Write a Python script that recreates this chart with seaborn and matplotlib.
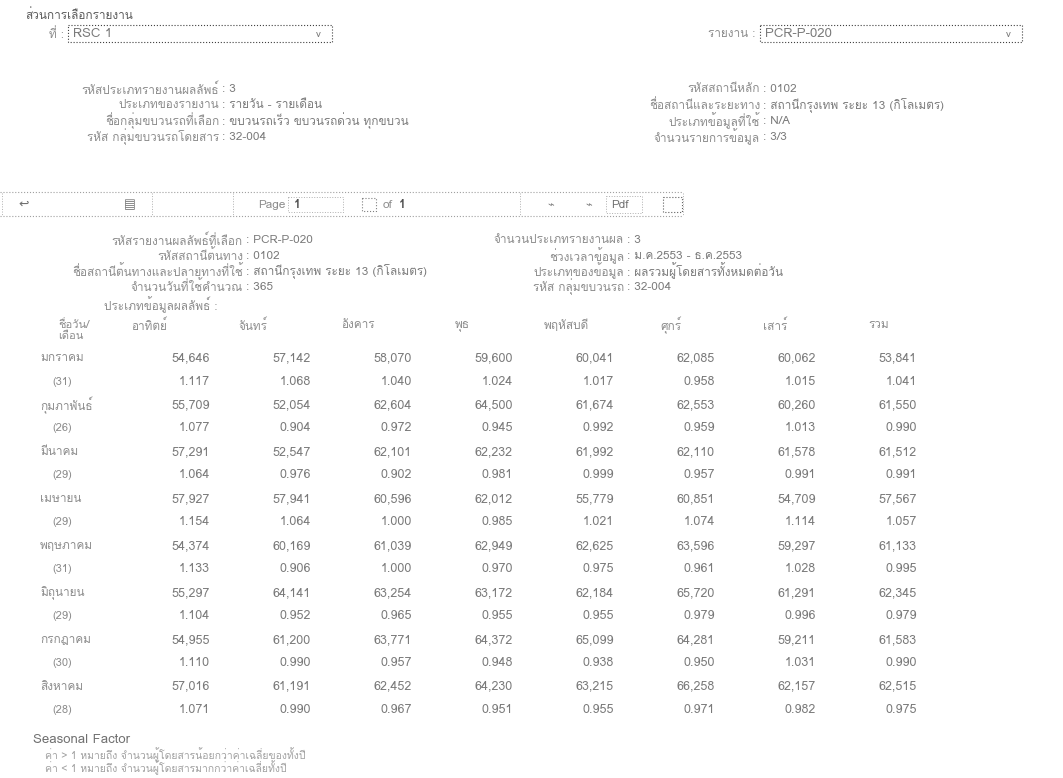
import numpy as np
import pandas as pd
import seaborn as sns
import matplotlib
matplotlib.use("Agg")
from matplotlib import pyplot as plt
from matplotlib import font_manager
from matplotlib.ft2font import FT2Font
from matplotlib.colors import ListedColormap
from matplotlib.patches import Rectangle

# table data
months = ["มกราคม", "กุมภาพันธ์", "มีนาคม", "เมษายน",
          "พฤษภาคม", "มิถุนายน", "กรกฎาคม", "สิงหาคม"]
day_counts = [31, 26, 29, 29, 31, 29, 30, 28]
days = ["อาทิตย์", "จันทร์", "อังคาร", "พุธ", "พฤหัสบดี", "ศุกร์", "เสาร์", "รวม"]

volumes = [
    [54646, 57142, 58070, 59600, 60041, 62085, 60062, 53841],
    [55709, 52054, 62604, 64500, 61674, 62553, 60260, 61550],
    [57291, 52547, 62101, 62232, 61992, 62110, 61578, 61512],
    [57927, 57941, 60596, 62012, 55779, 60851, 54709, 57567],
    [54374, 60169, 61039, 62949, 62625, 63596, 59297, 61133],
    [55297, 64141, 63254, 63172, 62184, 65720, 61291, 62345],
    [54955, 61200, 63771, 64372, 65099, 64281, 59211, 61583],
    [57016, 61191, 62452, 64230, 63215, 66258, 62157, 62515],
]
factors = [
    [1.117, 1.068, 1.040, 1.024, 1.017, 0.958, 1.015, 1.041],
    [1.077, 0.904, 0.972, 0.945, 0.992, 0.959, 1.013, 0.990],
    [1.064, 0.976, 0.902, 0.981, 0.999, 0.957, 0.991, 0.991],
    [1.154, 1.064, 1.000, 0.985, 1.021, 1.074, 1.114, 1.057],
    [1.133, 0.906, 1.000, 0.970, 0.975, 0.961, 1.028, 0.995],
    [1.104, 0.952, 0.965, 0.955, 0.955, 0.979, 0.996, 0.979],
    [1.110, 0.990, 0.957, 0.948, 0.938, 0.950, 1.031, 0.990],
    [1.071, 0.990, 0.967, 0.951, 0.955, 0.971, 0.982, 0.975],
]

top_left_info = [("รหัสประเภทรายงานผลลัพธ์", "3"),
                 ("ประเภทของรายงาน", "รายวัน - รายเดือน"),
                 ("ชื่อกลุ่มขบวนรถที่เลือก", "ขบวนรถเร็ว ขบวนรถด่วน ทุกขบวน"),
                 ("รหัส กลุ่มขบวนรถโดยสาร", "32-004")]
top_right_info = [("รหัสสถานีหลัก", "0102"),
                  ("ชื่อสถานีและระยะทาง", "สถานีกรุงเทพ ระยะ 13 (กิโลเมตร)"),
                  ("ประเภทข้อมูลที่ใช้", "N/A"),
                  ("จำนวนรายการข้อมูล", "3/3")]
report_left_info = [("รหัสรายงานผลลัพธ์ที่เลือก", "PCR-P-020"),
                    ("รหัสสถานีต้นทาง", "0102"),
                    ("ชื่อสถานีต้นทางและปลายทางที่ใช้", "สถานีกรุงเทพ ระยะ 13 (กิโลเมตร)"),
                    ("จำนวนวันที่ใช้คำนวณ", "365")]
report_right_info = [("จำนวนประเภทรายงานผล", "3"),
                     ("ช่วงเวลาข้อมูล", "ม.ค.2553 - ธ.ค.2553"),
                     ("ประเภทของข้อมูล", "ผลรวมผู้โดยสารทั้งหมดต่อวัน"),
                     ("รหัส กลุ่มขบวนรถ", "32-004")]
notes = ["ค่า > 1 หมายถึง จำนวนผู้โดยสารน้อยกว่าค่าเฉลี่ยของทั้งปี",
         "ค่า < 1 หมายถึง จำนวนผู้โดยสารมากกว่าค่าเฉลี่ยทั้งปี"]


# find a font that can draw Thai
def has_thai(path):
    try:
        return 0x0E01 in FT2Font(path).get_charmap()
    except Exception:
        return False


thai = []
for fe in font_manager.fontManager.ttflist:
    if fe.name not in thai and has_thai(fe.fname):
        thai.append(fe.name)

sns.set_theme(style="white")
plt.rcParams['font.family'] = thai[:1] + ['DejaVu Sans']

W, H = 1063, 778
fig = plt.figure(figsize=(W / 100, H / 100), dpi=100)
ax = fig.add_axes([0, 0, 1, 1])
ax.set_xlim(0, W)
ax.set_ylim(H, 0)
ax.set_axis_off()

lab_c = '#8c8c8c'
val_c = '#7a7a7a'
fs = 8.5

# selection area
ax.text(25, 15, "ส่วนการเลือกรายงาน", fontsize=fs, color='#5a5a5a', va='center')
ax.text(64, 34, "ที่ :", fontsize=fs, color=lab_c, va='center', ha='right')
ax.add_patch(Rectangle((68, 25), 264, 17, fill=False, ec='#404040', lw=0.8, ls=':'))
ax.text(73, 34, "RSC 1", fontsize=9.5, color=val_c, va='center')
ax.text(316, 34, "v", fontsize=7, color=val_c, va='center')
ax.text(755, 34, "รายงาน :", fontsize=fs, color=lab_c, va='center', ha='right')
ax.add_patch(Rectangle((760, 25), 262, 17, fill=False, ec='#404040', lw=0.8, ls=':'))
ax.text(765, 34, "PCR-P-020", fontsize=9.5, color=val_c, va='center')
ax.text(1006, 34, "v", fontsize=7, color=val_c, va='center')


def info_block(rows, colon_x, y0, step):
    for k, (lab, val) in enumerate(rows):
        y = y0 + k * step
        ax.text(colon_x - 3, y, lab, fontsize=fs, color=lab_c, ha='right', va='center')
        ax.text(colon_x, y, ": " + val, fontsize=fs, color=val_c, ha='left', va='center')


info_block(top_left_info, 222, 89, 16)
info_block(top_right_info, 763, 89, 16)

# report toolbar
ax.plot([0, 683], [192, 192], ls=':', color='#a0a0a0', lw=0.8)
ax.plot([0, 683], [216, 216], ls=':', color='#a0a0a0', lw=0.8)
for xs in [2, 152, 233, 520, 683]:
    ax.plot([xs, xs], [193, 215], ls=':', color='#b0b0b0', lw=0.7)
ax.text(18, 205, "↩", fontsize=9, color='#707070', va='center')
ax.text(124, 205, "▤", fontsize=9, color='#707070', va='center')
ax.text(258, 205, "Page", fontsize=fs, color=lab_c, va='center')
ax.add_patch(Rectangle((288, 197), 55, 15, fill=False, ec='#b0b0b0', lw=0.7, ls=':'))
ax.text(294, 205, "1", fontsize=9, color='#505050', va='center', weight='bold')
ax.add_patch(Rectangle((362, 198), 14, 13, fill=False, ec='#808080', lw=0.8, ls=':'))
ax.text(383, 205, "of", fontsize=fs, color=lab_c, va='center')
ax.text(399, 205, "1", fontsize=9, color='#505050', va='center', weight='bold')
ax.text(547, 206, "⌁", fontsize=8, color='#808080', va='center')
ax.text(585, 206, "⌁", fontsize=8, color='#808080', va='center')
ax.add_patch(Rectangle((606, 196), 36, 17, fill=False, ec='#b0b0b0', lw=0.7, ls=':'))
ax.text(611, 205, "Pdf", fontsize=fs, color='#707070', va='center')
ax.add_patch(Rectangle((663, 197), 19, 15, fill=False, ec='#606060', lw=0.8, ls=':'))

info_block(report_left_info, 246, 240, 15.5)
info_block(report_right_info, 627, 240, 15.5)
ax.text(217, 305, "ประเภทข้อมูลผลลัพธ์ :", fontsize=fs, color=lab_c, ha='right', va='center')

# seasonal table
rows_txt = []
for v_row, f_row in zip(volumes, factors):
    rows_txt.append([f"{v:,}" for v in v_row])
    rows_txt.append([f"{f:.3f}" for f in f_row])
annot = np.array(rows_txt)
cells = pd.DataFrame(np.zeros(annot.shape), columns=days)

x0, cw = 114.0, 101.0
y0, rh = 346.3, 23.47
hax = fig.add_axes([x0 / W, 1 - (y0 + rh * len(annot)) / H,
                    cw * len(days) / W, rh * len(annot) / H])
sns.heatmap(cells, annot=annot, fmt='', cmap=ListedColormap(['white']),
            cbar=False, ax=hax, xticklabels=False, yticklabels=False,
            annot_kws=dict(fontsize=9, color=val_c))
for t in hax.texts:
    px, py = t.get_position()
    t.set_position((px + 0.45, py))
    t.set_ha('right')
hax.set_axis_off()

# header cells sit on a slightly wider pitch than the value cells
head_pitch = 104.3 / cw
for i, d in enumerate(days):
    hax.text((149 - x0) / cw + i * head_pitch, -0.9, d, fontsize=fs,
             color=lab_c, va='center', ha='center')
hax.text((58 - x0) / cw, -1.15, "ชื่อวัน/\nเดือน", fontsize=8, color=lab_c,
         va='top', ha='left', linespacing=1.1)
for k, (m, n) in enumerate(zip(months, day_counts)):
    hax.text((40 - x0) / cw, 2 * k + 0.5, m, fontsize=8.5, color=lab_c, va='center')
    hax.text((52 - x0) / cw, 2 * k + 1.5, f"({n})", fontsize=8, color=lab_c, va='center')

# footer
ax.text(33, 740, "Seasonal Factor", fontsize=9.5, color='#707070', va='center')
for k, n in enumerate(notes):
    ax.text(45, 755 + 12.5 * k, n, fontsize=7.5, color='#a0a0a0', va='center')

fig.savefig("out.png", dpi=100)
